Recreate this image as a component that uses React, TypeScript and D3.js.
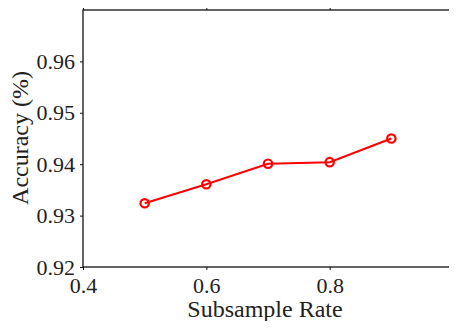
import React, { useRef, useEffect } from 'react';
import * as d3 from 'd3';

const rates = [0.5, 0.6, 0.7, 0.8, 0.9];
const accuracy = [0.9324, 0.9361, 0.9401, 0.9404, 0.945];
const xTicks = [0.4, 0.6, 0.8, 1];
const yTicks = [0.92, 0.93, 0.94, 0.95, 0.96];

const App: React.FC = () => {
  const svgRef = useRef<SVGSVGElement>(null);

  useEffect(() => {
    if (!svgRef.current) return;
    const width = 457;
    const height = 329;
    const margin = { top: 10, right: 4, bottom: 62, left: 83 };
    const innerWidth = width - margin.left - margin.right;
    const innerHeight = height - margin.top - margin.bottom;
    const font = '"Liberation Serif", "DejaVu Serif", serif';

    const svg = d3.select(svgRef.current);
    svg.selectAll('*').remove();
    svg.attr('width', width).attr('height', height).style('font-family', font);

    const g = svg.append('g').attr('transform', `translate(${margin.left},${margin.top})`);

    const x = d3.scaleLinear().domain([0.4, 1]).range([0, innerWidth]);
    const y = d3.scaleLinear().domain([0.92, 0.97]).range([innerHeight, 0]);

    // frame
    g.append('rect')
      .attr('width', innerWidth)
      .attr('height', innerHeight)
      .attr('fill', 'none')
      .attr('stroke', '#111')
      .attr('stroke-width', 1.3);

    const fmt = (d: d3.NumberValue) => {
      const v = +d;
      return v === 1 ? '1' : d3.format('.1f')(v);
    };

    const styleAxis = (sel: d3.Selection<SVGGElement, unknown, null, undefined>) => {
      sel.attr('font-family', null).attr('font-size', null);
      sel.select('.domain').remove();
      sel.selectAll('line').attr('stroke', '#111').attr('stroke-width', 1);
      sel.selectAll('text')
        .attr('fill', '#222')
        .style('font-family', font)
        .style('font-size', '22px');
    };

    // bottom axis
    g.append('g')
      .attr('transform', `translate(0,${innerHeight})`)
      .call(d3.axisBottom(x).tickValues(xTicks).tickFormat(fmt).tickSize(3).tickPadding(7))
      .call(styleAxis);

    // top ticks
    g.append('g')
      .call(d3.axisTop(x).tickValues(xTicks).tickFormat(() => '').tickSize(3))
      .call(styleAxis);

    // left axis
    g.append('g')
      .call(d3.axisLeft(y).tickValues(yTicks).tickFormat(d3.format('.2f')).tickSize(3).tickPadding(5))
      .call(styleAxis);

    // right ticks
    g.append('g')
      .attr('transform', `translate(${innerWidth},0)`)
      .call(d3.axisRight(y).tickValues(yTicks).tickFormat(() => '').tickSize(3))
      .call(styleAxis);

    // labels
    svg.append('text')
      .attr('x', 265)
      .attr('y', 317)
      .attr('text-anchor', 'middle')
      .attr('fill', '#222')
      .style('font-size', '24px')
      .text('Subsample Rate');

    svg.append('text')
      .attr('transform', `translate(28,${138}) rotate(-90)`)
      .attr('text-anchor', 'middle')
      .attr('fill', '#222')
      .style('font-size', '24px')
      .text('Accuracy (%)');

    const pts = rates.map((r, i) => [r, accuracy[i]] as [number, number]);

    g.append('path')
      .datum(pts)
      .attr('fill', 'none')
      .attr('stroke', '#ff0000')
      .attr('stroke-width', 2)
      .attr('d', d3.line<[number, number]>().x(d => x(d[0])).y(d => y(d[1])));

    g.selectAll('.pt')
      .data(pts)
      .join('circle')
      .attr('class', 'pt')
      .attr('cx', d => x(d[0]))
      .attr('cy', d => y(d[1]))
      .attr('r', 4.2)
      .attr('fill', 'none')
      .attr('stroke', '#ff0000')
      .attr('stroke-width', 2.2);
  }, []);

  return (
    <div style={{ margin: -8 }}>
      <svg ref={svgRef} style={{ display: 'block' }} />
    </div>
  );
};

export default App;
